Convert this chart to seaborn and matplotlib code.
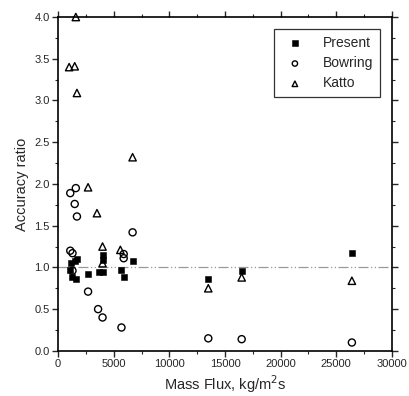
import matplotlib
matplotlib.use("Agg")
import matplotlib.pyplot as plt
from matplotlib.ticker import MultipleLocator
import seaborn as sns
import pandas as pd

# values
present_flux = [1100, 1200, 1300, 1500, 1600, 1700, 2700, 3700, 4000, 4000, 4000,
                5700, 5900, 6700, 13500, 16500, 26400]
present_ratio = [0.97, 1.05, 0.89, 1.08, 0.86, 1.10, 0.92, 0.94, 0.95, 1.09, 1.15,
                 0.97, 0.89, 1.08, 0.86, 0.96, 1.17]

bowring_flux = [1100, 1600, 1500, 1700, 1100, 1300, 1300, 2700, 3600, 4000, 5700,
                5900, 5900, 6700, 13500, 16500, 26400]
bowring_ratio = [1.89, 1.95, 1.76, 1.61, 1.20, 1.17, 0.96, 0.71, 0.50, 0.40, 0.28,
                 1.16, 1.11, 1.42, 0.15, 0.14, 0.10]

katto_flux = [1600, 1000, 1500, 1700, 2700, 6700, 3500, 4000, 4000, 5600,
              13500, 16500, 26400]
katto_ratio = [4.0, 3.40, 3.41, 3.09, 1.96, 2.32, 1.65, 1.25, 1.05, 1.21,
               0.75, 0.88, 0.84]

df = pd.concat([
    pd.DataFrame({"flux": present_flux, "ratio": present_ratio, "method": "Present"}),
    pd.DataFrame({"flux": bowring_flux, "ratio": bowring_ratio, "method": "Bowring"}),
    pd.DataFrame({"flux": katto_flux, "ratio": katto_ratio, "method": "Katto"}),
])

sns.set_style("ticks")
plt.rcParams["font.family"] = ["Liberation Sans", "DejaVu Sans"]

fig = plt.figure(figsize=(4.1, 3.96), dpi=100)
ax = fig.add_axes([0.1415, 0.114, 0.8145, 0.843])

ax.axhline(1.0, color="#999999", lw=0.9, ls=(0, (8, 2, 1, 2, 1, 2)), zorder=1)

sns.scatterplot(data=df[df.method == "Present"], x="flux", y="ratio", marker="s",
                color="black", edgecolor="black", s=24, label="Present", ax=ax,
                zorder=3, clip_on=False)
sns.scatterplot(data=df[df.method == "Bowring"], x="flux", y="ratio", marker="o",
                facecolor="none", edgecolor="black", linewidth=1.0, s=26,
                label="Bowring", ax=ax, zorder=3, clip_on=False)
sns.scatterplot(data=df[df.method == "Katto"], x="flux", y="ratio", marker="^",
                facecolor="none", edgecolor="black", linewidth=1.0, s=28,
                label="Katto", ax=ax, zorder=3, clip_on=False)

ax.set_xlim(0, 30000)
ax.set_ylim(0.0, 4.0)
ax.xaxis.set_major_locator(MultipleLocator(5000))
ax.xaxis.set_minor_locator(MultipleLocator(2500))
ax.yaxis.set_major_locator(MultipleLocator(0.5))
ax.yaxis.set_minor_locator(MultipleLocator(0.25))
ax.yaxis.set_major_formatter(matplotlib.ticker.FormatStrFormatter("%.1f"))

for sp in ax.spines.values():
    sp.set_visible(True)
    sp.set_linewidth(1.2)
    sp.set_color("black")

ax.tick_params(which="major", direction="out", length=4, width=1, labelsize=8,
               pad=2, top=True, right=True)
ax.tick_params(which="minor", direction="out", length=2, width=0.8,
               top=True, right=True)
ax.tick_params(axis="both", which="both", labeltop=False, labelright=False)

ax.set_xlabel("Mass Flux, kg/m$^2$s", fontsize=10.5, labelpad=3)
ax.set_ylabel("Accuracy ratio", fontsize=10.5, labelpad=4)

leg = ax.legend(loc="upper right", fontsize=10, frameon=True, fancybox=False,
                edgecolor="black", borderpad=0.5, handletextpad=1.0,
                labelspacing=0.45, markerscale=0.75, bbox_to_anchor=(0.985, 0.985))
leg.get_frame().set_linewidth(0.9)

plt.savefig("out.png", dpi=100)
plt.close()
